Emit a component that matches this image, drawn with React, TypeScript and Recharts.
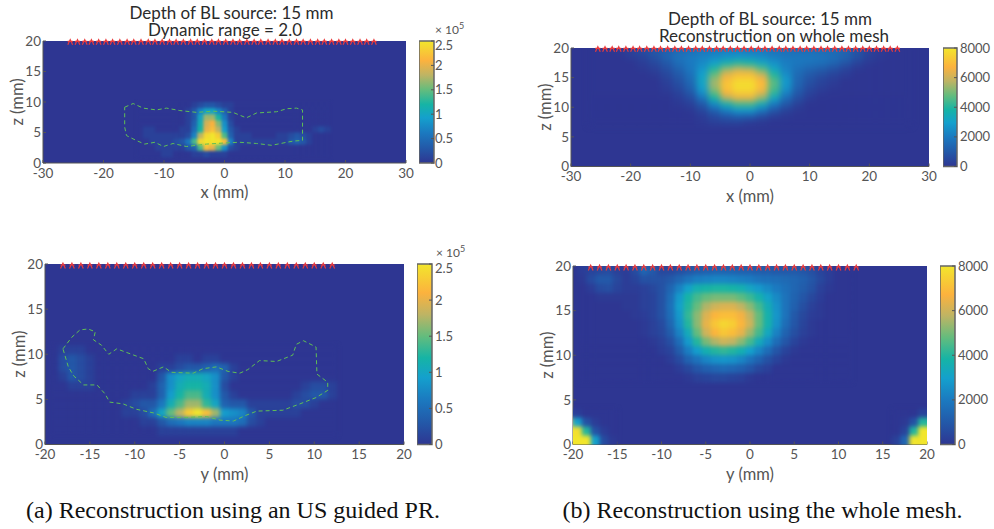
import React from "react";
import { Bar, BarChart, CartesianGrid, Scatter, ScatterChart, XAxis, YAxis, ZAxis } from "recharts";

const GREY = "#555555";
const FONT = "Lato, 'Open Sans', sans-serif";

// parula-ish colours as printed in the figure
const colourStops: [number, number[]][] = [
  [0, [46, 54, 146]],
  [0.12, [35, 88, 168]],
  [0.25, [27, 122, 192]],
  [0.37, [20, 160, 205]],
  [0.48, [22, 180, 165]],
  [0.6, [100, 188, 125]],
  [0.72, [190, 180, 100]],
  [0.84, [252, 178, 62]],
  [1, [242, 230, 44]],
];

const colourAt = (t: number) => {
  const v = Math.max(0, Math.min(1, t));
  for (let i = 1; i < colourStops.length; i++) {
    const [p1, c1] = colourStops[i];
    const [p0, c0] = colourStops[i - 1];
    if (v <= p1) {
      const f = (v - p0) / (p1 - p0);
      return `rgb(${c0.map((c, k) => Math.round(c + (c1[k] - c) * f)).join(",")})`;
    }
  }
  return "rgb(242,230,44)";
};

// sensor positions along the top edge
const sensorsX = [
  -25.5, -24.3, -23.1, -22, -20.8, -19.6, -18.5, -17.3, -16.1, -15, -13.8, -12.6, -11.5, -10.3, -9.1, -8, -6.8, -5.6, -4.5,
  -3.3, -2.1, -1, 0.2, 1.4, 2.5, 3.7, 4.9, 6, 7.2, 8.4, 9.5, 10.7, 11.9, 13, 14.2, 15.4, 16.5, 17.7, 18.9, 20, 21.2, 22.4, 23.5, 24.7,
];
const sensorsY = [
  -18, -17, -16, -15, -14, -13, -12, -11, -10, -9, -8, -7, -6, -5, -4, -3, -2, -1, 0, 1, 2, 3, 4, 5, 6, 7, 8, 9, 10, 11, 12,
];

// guided region outlines, [x, z] in mm
const outlineX = [
  [-16.5, 9.15], [-15.1, 9.75], [-13.45, 9], [-11.25, 8.7], [-9.6, 9], [-7.4, 8.6], [-4.6, 8.3], [-1.9, 8.5], [1.4, 8.3],
  [3.6, 7.4], [5.3, 8.2], [8.6, 8.4], [10.3, 8.9], [11.9, 9], [12.9, 8.7], [12.9, 3.7], [11.4, 3.6], [10.3, 3.4], [7.8, 2.9],
  [5.3, 3.2], [2.5, 3.4], [0.3, 3.3], [-3, 3.1], [-6.3, 2.7], [-8.5, 3.2], [-10.1, 2.7], [-11.5, 3.4], [-13.2, 3.1],
  [-14.6, 3.7], [-16.2, 4.5], [-16.5, 5.9], [-16.5, 9.15],
];
const outlineY = [
  [-18, 10.6], [-17, 11.9], [-16.1, 12.7], [-15.2, 12.8], [-14.4, 12.5], [-14.6, 11.6], [-13.7, 11], [-12.9, 10], [-12, 10.6],
  [-10.1, 9.9], [-9, 9.5], [-8.5, 8.4], [-8, 8.1], [-6.8, 8.6], [-5.9, 8], [-3.5, 7.9], [-2.4, 8.4], [-0.9, 8.6], [0.4, 8.1],
  [1.7, 7.9], [2.6, 8.3], [3.9, 9.3], [5.8, 9.2], [7.6, 9.9], [8, 11.1], [8.8, 11.5], [10.2, 10.8], [10.3, 7.8], [11.5, 6.9],
  [11.5, 6], [10.2, 5.2], [8.4, 4.5], [6.5, 3.8], [3.6, 3.7], [2.3, 3.2], [1, 2.6], [-0.5, 2.7], [-2, 3.1], [-4.2, 3], [-6.5, 3],
  [-7.9, 3.5], [-9.8, 3.9], [-11.3, 4.5], [-12.8, 4.7], [-13.3, 5.6], [-14.2, 6.6], [-15.7, 6.6], [-16.8, 7.6], [-17.4, 8.6], [-18, 10.6],
];

// intensity; rows shorter than the columns end in zeros
// panel a, x-z, units of 1e4
const colsA = [-14, -13, -12, -11, -10, -9, -8, -7, -6, -5, -4, -3, -2, -1, 0, 1, 2, 3, 4, 5, 6, 7, 8, 9, 10, 11, 12, 13, 14, 15, 16, 17];
const rowsA = [9.5, 8.5, 7.5, 6.5, 5.5, 4.5, 3.5, 2.5, 1.5];
const valuesA = [
  [0, 0, 0, 0, 0, 0, 0, 0, 0, 1, 2, 3, 3, 2, 1, 1],
  [0, 0, 0, 0, 0, 0, 0, 0, 1, 3, 7, 10, 10, 7, 4, 1],
  [0, 0, 0, 0, 0, 0, 0, 0, 1, 3, 10, 17, 17, 12, 6, 1],
  [0, 0, 0, 0, 0, 0, 0, 0, 1, 4, 11, 19, 21, 16, 8, 2],
  [0, 1, 1, 0, 0, 0, 0, 1, 1, 5, 12, 20, 22, 18, 9, 3, 1, 0, 0, 0, 0, 0, 0, 0, 0, 0, 0, 0, 0, 1, 2, 1],
  [0, 1, 1, 1, 1, 1, 1, 1, 2, 7, 18, 24, 25, 23, 14, 4, 1, 1, 1, 0, 0, 0, 0, 1, 1, 2, 3, 2, 1],
  [0, 0, 1, 1, 1, 1, 2, 3, 6, 14, 24, 25, 25, 25, 22, 7, 1, 1, 1, 1, 1, 1, 1, 1, 1, 3, 4, 3, 1],
  [0, 0, 0, 1, 1, 1, 1, 1, 3, 4, 14, 22, 20, 15, 8, 2, 1],
  [0, 0, 0, 0, 1, 1, 0, 0, 0, 1, 1, 2, 1, 1, 1],
];

// panel b, x-z, units of 100
const colsB = [-26, -24, -22, -20, -18, -16, -14, -12, -10, -8, -6, -4, -2, 0, 2, 4, 6, 8, 10, 12, 14, 16, 18, 20, 22, 24, 26];
const rowsB = [20.5, 19.5, 18.5, 17.5, 16.5, 15.5, 14.5, 13.5, 12.5, 11.5, 10.5, 9.5, 8.5, 7.5];
const valuesB = [
  [0, 0, 1, 3, 6, 9, 12, 15, 17, 19, 20, 21, 21, 20, 20, 18, 17, 16, 16, 16, 15, 13, 8, 3, 1],
  [0, 0, 1, 3, 6, 9, 12, 15, 17, 19, 20, 21, 21, 20, 20, 18, 17, 16, 16, 16, 15, 13, 8, 3, 1],
  [0, 0, 0, 2, 4, 8, 13, 18, 20, 22, 24, 26, 27, 26, 24, 21, 19, 19, 19, 18, 16, 13, 8, 3, 1],
  [0, 0, 0, 0, 2, 5, 10, 16, 20, 24, 30, 36, 40, 38, 32, 26, 21, 19, 18, 17, 14, 9, 4, 1],
  [0, 0, 0, 0, 1, 3, 7, 13, 19, 27, 40, 52, 58, 56, 46, 32, 22, 17, 14, 11, 8, 4, 1],
  [0, 0, 0, 0, 0, 1, 5, 10, 17, 30, 48, 64, 70, 70, 60, 40, 25, 15, 10, 7, 4, 2],
  [0, 0, 0, 0, 0, 0, 3, 8, 15, 32, 54, 70, 76, 76, 68, 46, 28, 14, 8, 4, 2],
  [0, 0, 0, 0, 0, 0, 2, 6, 13, 30, 54, 72, 78, 78, 70, 46, 27, 13, 6, 3, 1],
  [0, 0, 0, 0, 0, 0, 1, 4, 10, 26, 48, 68, 74, 74, 64, 42, 23, 10, 4, 1],
  [0, 0, 0, 0, 0, 0, 0, 2, 6, 18, 38, 56, 64, 64, 52, 32, 16, 7, 2],
  [0, 0, 0, 0, 0, 0, 0, 1, 3, 10, 24, 36, 44, 44, 34, 20, 10, 3],
  [0, 0, 0, 0, 0, 0, 0, 0, 1, 5, 13, 22, 28, 28, 20, 10, 4, 1],
  [0, 0, 0, 0, 0, 0, 0, 0, 0, 2, 6, 10, 13, 12, 7, 3, 1],
  [0, 0, 0, 0, 0, 0, 0, 0, 0, 1, 3, 4, 4, 2, 1],
];

// panel a lower, y-z, units of 1e4
const colsC = [-19, -18, -17, -16, -15, -14, -13, -12, -11, -10, -9, -8, -7, -6, -5, -4, -3, -2, -1, 0, 1, 2, 3, 4, 5, 6, 7, 8, 9, 10, 11, 12];
const rowsC = [10.5, 9.5, 8.5, 7.5, 6.5, 5.5, 4.5, 3.5, 2.5, 1.5];
const valuesC = [
  [0, 1, 1, 1],
  [0, 2, 3, 2, 1, 0, 0, 0, 0, 0, 0, 0, 0, 0, 1, 1, 0, 1, 1],
  [0, 2, 3, 2, 1, 0, 0, 0, 0, 0, 0, 0, 1, 1, 2, 3, 3, 4, 5, 4, 1],
  [0, 1, 3, 2, 1, 0, 0, 0, 0, 0, 0, 0, 3, 8, 10, 11, 11, 10, 8, 3, 1],
  [0, 0, 1, 1, 1, 0, 0, 0, 0, 0, 0, 1, 4, 8, 11, 12, 12, 11, 8, 2, 0, 0, 0, 0, 0, 0, 0, 0, 1, 2, 2, 1],
  [0, 0, 0, 0, 0, 0, 0, 0, 0, 1, 1, 1, 4, 9, 12, 14, 14, 11, 8, 3, 1, 0, 0, 0, 0, 0, 0, 1, 2, 3, 3, 1],
  [0, 0, 0, 0, 0, 0, 0, 0, 1, 2, 3, 3, 6, 11, 14, 17, 17, 13, 10, 4, 3, 3, 1, 1, 1, 1, 1, 2, 2, 1],
  [0, 0, 0, 0, 0, 0, 0, 0, 1, 1, 2, 5, 10, 15, 18, 23, 25, 22, 17, 9, 8, 7, 3, 1, 1, 1, 1, 1],
  [0, 0, 0, 0, 0, 0, 0, 0, 0, 0, 1, 1, 3, 5, 6, 7, 7, 7, 6, 6, 6, 5, 2, 1],
  [0, 0, 0, 0, 0, 0, 0, 0, 0, 0, 0, 0, 1, 1, 1, 1, 1, 1, 1, 1, 1],
];

// panel b lower, y-z, units of 100
const colsD = [-19, -18, -17, -16, -15, -14, -13, -12, -11, -10, -9, -8, -7, -6, -5, -4, -3, -2, -1, 0, 1, 2, 3, 4, 5, 6, 7, 8, 9, 10, 11];
const rowsD = [20.5, 19.5, 18.5, 17.5, 16.5, 15.5, 14.5, 13.5, 12.5, 11.5, 10.5, 9.5, 8.5, 7.5];
const valuesD = [
  [2, 4, 5, 6, 3, 2, 6, 14, 10, 5, 5, 7, 9, 11, 12, 13, 13, 13, 12, 12, 11, 11, 10, 10, 10, 9, 7, 4, 2],
  [2, 4, 5, 6, 3, 2, 6, 14, 10, 5, 5, 7, 9, 11, 12, 13, 13, 13, 12, 12, 11, 11, 10, 10, 10, 9, 7, 4, 2],
  [1, 6, 10, 10, 5, 2, 4, 8, 8, 8, 10, 14, 18, 21, 22, 23, 23, 22, 21, 20, 18, 17, 16, 15, 14, 12, 9, 5, 2],
  [0, 2, 6, 7, 4, 2, 2, 3, 5, 8, 14, 22, 30, 36, 38, 39, 39, 38, 36, 32, 28, 24, 20, 17, 14, 11, 8, 3, 1],
  [0, 0, 1, 1, 1, 1, 1, 3, 4, 8, 16, 28, 38, 44, 48, 50, 50, 50, 47, 43, 37, 31, 24, 18, 13, 9, 5, 2],
  [0, 0, 0, 0, 0, 1, 1, 3, 4, 8, 17, 30, 40, 48, 56, 60, 62, 62, 58, 52, 44, 35, 26, 18, 12, 7, 3, 1],
  [0, 0, 0, 0, 0, 0, 1, 2, 4, 8, 16, 28, 42, 52, 62, 68, 70, 70, 66, 58, 48, 37, 27, 18, 10, 5, 2, 1],
  [0, 0, 0, 0, 0, 0, 0, 1, 3, 6, 14, 26, 40, 52, 64, 72, 76, 74, 68, 60, 48, 37, 26, 16, 9, 4, 1],
  [0, 0, 0, 0, 0, 0, 0, 1, 3, 5, 11, 22, 34, 48, 60, 68, 72, 70, 64, 54, 44, 33, 22, 13, 7, 3, 1],
  [0, 0, 0, 0, 0, 0, 0, 0, 1, 3, 7, 16, 28, 40, 50, 56, 60, 58, 52, 44, 34, 25, 16, 9, 4, 1],
  [0, 0, 0, 0, 0, 0, 0, 0, 0, 2, 4, 11, 21, 29, 36, 40, 42, 40, 36, 30, 23, 16, 9, 4, 1],
  [0, 0, 0, 0, 0, 0, 0, 0, 0, 0, 2, 6, 13, 18, 23, 26, 27, 26, 23, 18, 13, 8, 4, 1],
  [0, 0, 0, 0, 0, 0, 0, 0, 0, 0, 0, 2, 5, 9, 12, 14, 15, 14, 12, 9, 5, 3],
  [0, 0, 0, 0, 0, 0, 0, 0, 0, 0, 0, 0, 1, 3, 4, 5, 5, 4, 3, 1],
];
const cornerLeftCols = [-20.5, -19.5, -18.5, -17.5, -16.5, -15.5];
const cornerLeftRows = [3.5, 2.5, 1.5, 0.5, -0.5];
const cornerLeft = [
  [4, 2],
  [55, 30, 8, 2],
  [85, 78, 40, 8, 2],
  [85, 85, 85, 30, 6, 1],
  [85, 85, 85, 30, 6, 1],
];
const cornerRightCols = [16.5, 17.5, 18.5, 19.5, 20.5];
const cornerRightRows = [3.5, 2.5, 1.5, 0.5, -0.5];
const cornerRight = [
  [0, 0, 0, 4, 4],
  [0, 1, 8, 40, 40],
  [0, 4, 40, 85, 85],
  [3, 14, 85, 85, 85],
  [3, 14, 85, 85, 85],
];

const ticksX = [-30, -20, -10, 0, 10, 20, 30];
const ticksY = [-20, -15, -10, -5, 0, 5, 10, 15, 20];
const ticksZ = [0, 5, 10, 15, 20];
const barTicksA = [0, 5, 10, 15, 20, 25];
const barLabelsA = ["0", "0.5", "1", "1.5", "2", "2.5"];
const barTicksB = [0, 20, 40, 60, 80];
const barLabelsB = ["0", "2000", "4000", "6000", "8000"];

type Grid = { cols: number[]; rows: number[]; values: number[][]; cw: number; ch: number };

const toCells = (grids: Grid[]) =>
  grids.flatMap((g) =>
    g.rows.flatMap((z, r) =>
      g.cols.map((x, c) => ({ x, z, value: g.values[r][c] ?? 0, cw: g.cw, ch: g.ch }))
    )
  );

const axisTick = { fill: GREY, fontSize: 13.5, fontFamily: FONT };
const labelStyle = { fill: GREY, fontSize: 16.5, fontFamily: FONT };

const SensorMark = (p: any) => (
  <path
    d={`M${p.cx - 2.4} ${p.cy + 2.6}L${p.cx} ${p.cy - 2.6}L${p.cx + 2.4} ${p.cy + 2.6}M${p.cx - 2.6} ${p.cy - 0.8}L${p.cx + 2.6} ${p.cy - 0.8}`}
    fill="none"
    stroke="#ea3a3c"
    strokeWidth={1.2}
  />
);

type PanelProps = {
  left: number;
  top: number;
  plotW: number;
  plotH: number;
  domainX: number[];
  ticks: number[];
  xName: string;
  grids: Grid[];
  max: number;
  sensors: number[];
  outline?: number[][];
  blur: number;
};

const Panel = ({ left, top, plotW, plotH, domainX, ticks, xName, grids, max, sensors, outline, blur }: PanelProps) => {
  const pxX = plotW / (domainX[1] - domainX[0]);
  const pxZ = plotH / 20;
  const cells = toCells(grids);
  const sensorData = sensors.map((x) => ({ x, z: 19.8 }));
  const outlineData = (outline || []).map(([x, z]) => ({ x, z }));
  const HeatCell = (p: any) => {
    const w = p.payload.cw * pxX;
    const h = p.payload.ch * pxZ;
    return <rect x={p.cx - w / 2} y={p.cy - h / 2} width={w + 0.5} height={h + 0.5} fill={colourAt(p.payload.value / max)} />;
  };
  return (
    <div style={{ position: "absolute", left: left - 50, top: top - 10 }}>
      <ScatterChart width={plotW + 60} height={plotH + 55} margin={{ top: 10, right: 10, bottom: 0, left: 0 }}>
        <CartesianGrid horizontal={false} vertical={false} fill="#2e3692" />
        <XAxis
          xAxisId="main"
          type="number"
          dataKey="x"
          domain={domainX}
          ticks={ticks}
          interval={0}
          allowDataOverflow
          height={45}
          tick={axisTick}
          tickSize={-3}
          tickMargin={8}
          stroke={GREY}
          label={{ value: xName, position: "insideBottom", offset: 10, ...labelStyle }}
        />
        <YAxis
          yAxisId="main"
          type="number"
          dataKey="z"
          domain={[0, 20]}
          ticks={ticksZ}
          interval={0}
          allowDataOverflow
          width={50}
          tick={axisTick}
          tickSize={-3}
          tickMargin={5}
          stroke={GREY}
          label={{ value: "z (mm)", angle: -90, position: "insideLeft", offset: 24, textAnchor: "middle", ...labelStyle }}
        />
        <XAxis xAxisId="top" orientation="top" type="number" dataKey="x" domain={domainX} ticks={ticks} interval={0} height={0} tick={false} tickSize={-3} stroke={GREY} />
        <YAxis yAxisId="right" orientation="right" type="number" dataKey="z" domain={[0, 20]} ticks={ticksZ} interval={0} width={0} tick={false} tickSize={-3} stroke={GREY} />
        <ZAxis range={[14, 14]} />
        <style>{`.heat-${blur * 10} { filter: blur(${blur}px); }`}</style>
        <Scatter xAxisId="main" yAxisId="main" className={`heat-${blur * 10}`} data={cells} shape={HeatCell} isAnimationActive={false} />
        {outline && (
          <Scatter
            xAxisId="top"
            yAxisId="right"
            data={outlineData}
            line={{ stroke: "#5fbf55", strokeWidth: 1, strokeDasharray: "4 3" }}
            shape={() => null}
            isAnimationActive={false}
          />
        )}
        <Scatter xAxisId="top" yAxisId="right" data={sensorData} shape={SensorMark} isAnimationActive={false} />
      </ScatterChart>
    </div>
  );
};

type BarProps = { left: number; top: number; width: number; height: number; max: number; ticks: number[]; labels: string[]; id: string; topShift?: number; labelDx?: number };

const ColourBar = ({ left, top, width, height, max, ticks, labels, id, topShift = 0, labelDx = 3 }: BarProps) => {
  // the top label of the 1e5 bars sits a little below its tick
  const BarTick = (p: any) => (
    <text x={p.x + labelDx} y={p.y + (p.payload.value === max ? topShift : 0)} dy={4.5} fill={GREY} fontSize={13} fontFamily={FONT}>
      {labels[ticks.indexOf(p.payload.value)]}
    </text>
  );
  return (
    <div style={{ position: "absolute", left, top: top - 10 }}>
      <BarChart width={width + 50} height={height + 20} data={[{ name: "c", top: max }]} barCategoryGap={0} margin={{ top: 10, right: 0, bottom: 10, left: 0 }}>
        <defs>
          <linearGradient id={id} x1="0" y1="1" x2="0" y2="0">
            {colourStops.map(([p, c]) => (
              <stop key={p} offset={p} stopColor={`rgb(${c.join(",")})`} />
            ))}
          </linearGradient>
        </defs>
        <XAxis dataKey="name" hide />
        <YAxis orientation="right" type="number" domain={[0, max]} ticks={ticks} interval={0} width={50} axisLine={false} tick={BarTick} tickSize={-3} tickMargin={3} stroke={GREY} />
        <Bar dataKey="top" fill={`url(#${id})`} stroke="#666" strokeWidth={1.5} isAnimationActive={false} />
      </BarChart>
    </div>
  );
};

const TitleLine = ({ cx, cy, text }: { cx: number; cy: number; text: string }) => (
  <div style={{ position: "absolute", left: cx - 170, width: 340, top: cy - 9, textAlign: "center", font: `17px/18px ${FONT}`, color: "#2b2b2b" }}>{text}</div>
);

const Exponent = ({ left, top }: { left: number; top: number }) => (
  <div style={{ position: "absolute", left, top, font: `12px/12px ${FONT}`, color: GREY, whiteSpace: "nowrap" }}>
    × 10<sup style={{ fontSize: 9, lineHeight: 0 }}>5</sup>
  </div>
);

const Caption = ({ cx, cy, text }: { cx: number; cy: number; text: string }) => (
  <div style={{ position: "absolute", left: cx - 240, width: 480, top: cy - 14, textAlign: "center", font: "24px/28px 'Liberation Serif', serif", color: "#111" }}>{text}</div>
);

export default function App() {
  return (
    <div style={{ position: "absolute", left: 0, top: 0, width: 994, height: 529, background: "#fff", overflow: "hidden" }}>
      <TitleLine cx={231.5} cy={12.5} text="Depth of BL source: 15 mm" />
      <TitleLine cx={225} cy={29.5} text="Dynamic range = 2.0" />
      <Panel left={43} top={40.5} plotW={363} plotH={122} domainX={[-30, 30]} ticks={ticksX} xName="x (mm)"
        grids={[{ cols: colsA, rows: rowsA, values: valuesA, cw: 1, ch: 1 }]} max={25} sensors={sensorsX} outline={outlineX} blur={1.8} />
      <ColourBar left={419} top={40.5} width={15} height={122} max={25} ticks={barTicksA} labels={barLabelsA} id="barA" topShift={4} labelDx={1} />
      <Exponent left={435} top={24} />

      <TitleLine cx={770} cy={19} text="Depth of BL source: 15 mm" />
      <TitleLine cx={774} cy={36} text="Reconstruction on whole mesh" />
      <Panel left={571} top={47.5} plotW={358} plotH={118.5} domainX={[-30, 30]} ticks={ticksX} xName="x (mm)"
        grids={[{ cols: colsB, rows: rowsB, values: valuesB, cw: 2, ch: 1 }]} max={80} sensors={sensorsX} blur={3} />
      <ColourBar left={943} top={47.5} width={14} height={118.5} max={80} ticks={barTicksB} labels={barLabelsB} id="barB" />

      <Panel left={45} top={263.5} plotW={359} plotH={180.5} domainX={[-20, 20]} ticks={ticksY} xName="y (mm)"
        grids={[{ cols: colsC, rows: rowsC, values: valuesC, cw: 1, ch: 1 }]} max={25} sensors={sensorsY} outline={outlineY} blur={2} />
      <ColourBar left={417} top={263.5} width={15} height={180.5} max={25} ticks={barTicksA} labels={barLabelsA} id="barC" topShift={4} />
      <Exponent left={436} top={247} />

      <Panel left={573} top={266} plotW={354} plotH={178.5} domainX={[-20, 20]} ticks={ticksY} xName="y (mm)"
        grids={[
          { cols: colsD, rows: rowsD, values: valuesD, cw: 1, ch: 1 },
          { cols: cornerLeftCols, rows: cornerLeftRows, values: cornerLeft, cw: 1, ch: 1 },
          { cols: cornerRightCols, rows: cornerRightRows, values: cornerRight, cw: 1, ch: 1 },
        ]}
        max={80} sensors={sensorsY} blur={2} />
      <ColourBar left={940} top={266} width={15} height={178.5} max={80} ticks={barTicksB} labels={barLabelsB} id="barD" />

      <Caption cx={233} cy={510} text="(a) Reconstruction using an US guided PR." />
      <Caption cx={762.5} cy={510} text="(b) Reconstruction using the whole mesh." />
    </div>
  );
}
